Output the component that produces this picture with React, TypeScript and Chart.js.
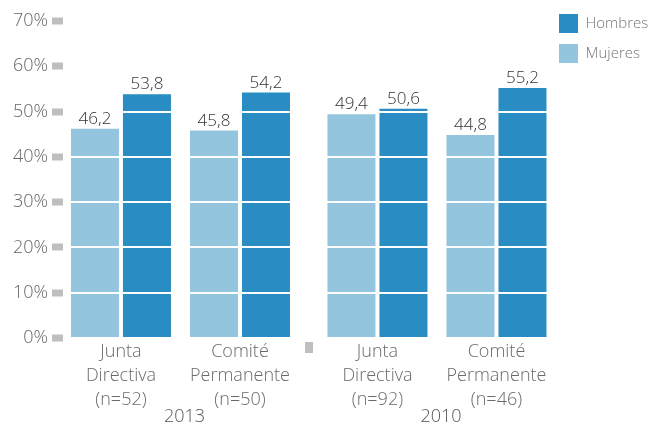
import React, { useEffect, useRef } from 'react';
import { Chart, registerables } from 'chart.js';

Chart.register(...registerables);

// ---- data ----
const CATEGORY_LINES: string[][] = [
  ['Junta', 'Directiva', '(n=52)'],
  ['Comité', 'Permanente', '(n=50)'],
  ['Junta', 'Directiva', '(n=92)'],
  ['Comité', 'Permanente', '(n=46)'],
];
const CATEGORY_YEAR_INDEX = [0, 0, 1, 1];
const YEARS = ['2013', '2010'];
const SERIES_NAMES = ['Mujeres', 'Hombres'];
const MUJERES = [46.2, 45.8, 49.4, 44.8];
const HOMBRES = [53.8, 54.2, 50.6, 55.2];
const Y_MIN = 0;
const Y_MAX = 70;
const Y_STEP = 10;

// ---- layout / style ----
const YEAR_GAP = 0.155;
const X_PAD_LEFT = 0.487;
const X_PAD_RIGHT = 0.433;
const COLOR_MUJERES = '#94c5df';
const COLOR_HOMBRES = '#298dc3';
const FONT_FAMILY = '"Open Sans", "DejaVu Sans", sans-serif';

const positions = CATEGORY_LINES.map((_, i) => i + CATEGORY_YEAR_INDEX[i] * YEAR_GAP);

const decorPlugin = {
  id: 'decor',
  afterDraw(chart: any) {
    const ctx = chart.ctx as CanvasRenderingContext2D;
    const xScale = chart.scales.x;
    const area = chart.chartArea;
    ctx.save();
    // value labels
    ctx.font = `300 17px ${FONT_FAMILY}`;
    ctx.fillStyle = '#333333';
    ctx.textAlign = 'center';
    ctx.textBaseline = 'alphabetic';
    chart.data.datasets.forEach((ds: any, di: number) => {
      const meta = chart.getDatasetMeta(di);
      meta.data.forEach((bar: any, i: number) => {
        const v = ds.data[i].y as number;
        ctx.fillText(v.toFixed(1).replace('.', ','), bar.x, bar.y - 5);
      });
    });
    // separator mark between years
    const lastOfFirst = CATEGORY_YEAR_INDEX.lastIndexOf(0);
    const sepVal = (positions[lastOfFirst] + positions[lastOfFirst + 1]) / 2;
    const sx = xScale.getPixelForValue(sepVal);
    ctx.fillStyle = '#bfbfbf';
    ctx.fillRect(Math.round(sx - 4), area.bottom + 4, 8, 11);
    // years
    ctx.font = `300 18px ${FONT_FAMILY}`;
    ctx.fillStyle = '#555555';
    ctx.textBaseline = 'middle';
    YEARS.forEach((yr, yi) => {
      const idx = CATEGORY_YEAR_INDEX.map((v, i) => (v === yi ? i : -1)).filter((i) => i >= 0);
      const mid = (positions[idx[0]] + positions[idx[idx.length - 1]]) / 2;
      ctx.fillText(yr, xScale.getPixelForValue(mid) + 4, 417);
    });
    ctx.restore();
  },
};

export default function App() {
  const ref = useRef<HTMLCanvasElement>(null);
  useEffect(() => {
    if (!ref.current) return;
    const chart = new Chart(ref.current, {
      type: 'bar',
      data: {
        datasets: [
          {
            label: SERIES_NAMES[0],
            data: positions.map((p, i) => ({ x: p, y: MUJERES[i] })),
            backgroundColor: COLOR_MUJERES,
            categoryPercentage: 0.874,
            barPercentage: 0.923,
          },
          {
            label: SERIES_NAMES[1],
            data: positions.map((p, i) => ({ x: p, y: HOMBRES[i] })),
            backgroundColor: COLOR_HOMBRES,
            categoryPercentage: 0.874,
            barPercentage: 0.923,
          },
        ],
      } as any,
      options: {
        animation: false,
        responsive: true,
        maintainAspectRatio: false,
        layout: { padding: { top: 3, bottom: 12, left: 0, right: 0 } },
        plugins: {
          tooltip: { enabled: false },
          legend: {
            position: 'right',
            align: 'start',
            reverse: true,
            maxWidth: 101,
            labels: {
              boxWidth: 19,
              boxHeight: 19,
              padding: 11,
              color: '#777777',
              font: { family: FONT_FAMILY, size: 15, weight: '300' as any },
            },
          },
        },
        scales: {
          x: {
            type: 'linear',
            offset: false,
            min: positions[0] - X_PAD_LEFT,
            max: positions[positions.length - 1] + X_PAD_RIGHT,
            grid: { display: false, drawTicks: false },
            border: { display: false },
            afterBuildTicks: (scale: any) => {
              scale.ticks = positions.map((p) => ({ value: p }));
            },
            afterFit: (scale: any) => {
              scale.paddingLeft = 0;
              scale.paddingRight = 0;
            },
            ticks: {
              autoSkip: false,
              maxRotation: 0,
              padding: 2,
              color: '#6a6a6a',
              font: { family: FONT_FAMILY, size: 18, weight: '300' as any, lineHeight: '24px' as any },
              callback: (_v: any, i: number) => CATEGORY_LINES[i],
            },
          },
          y: {
            min: Y_MIN,
            max: Y_MAX,
            border: { display: false },
            afterFit: (scale: any) => {
              scale.width = 63;
              scale.paddingTop = 21;
            },
            grid: {
              z: 1,
              color: (c: any) => (c.tick && c.tick.value === 0 ? 'rgba(0,0,0,0)' : '#ffffff'),
              lineWidth: 2,
              drawTicks: true,
              tickLength: 11,
              tickWidth: 7,
              tickColor: '#bfbfbf',
            },
            ticks: {
              stepSize: Y_STEP,
              padding: 4,
              color: '#666666',
              font: { family: FONT_FAMILY, size: 18, weight: '300' as any },
              callback: (v: any) => `${v}%`,
            },
          },
        },
      } as any,
      plugins: [decorPlugin],
    });
    return () => chart.destroy();
  }, []);
  return (
    <div style={{ position: 'fixed', left: 0, top: 0, width: 649, height: 426, background: '#fff' }}>
      <canvas ref={ref} />
    </div>
  );
}
